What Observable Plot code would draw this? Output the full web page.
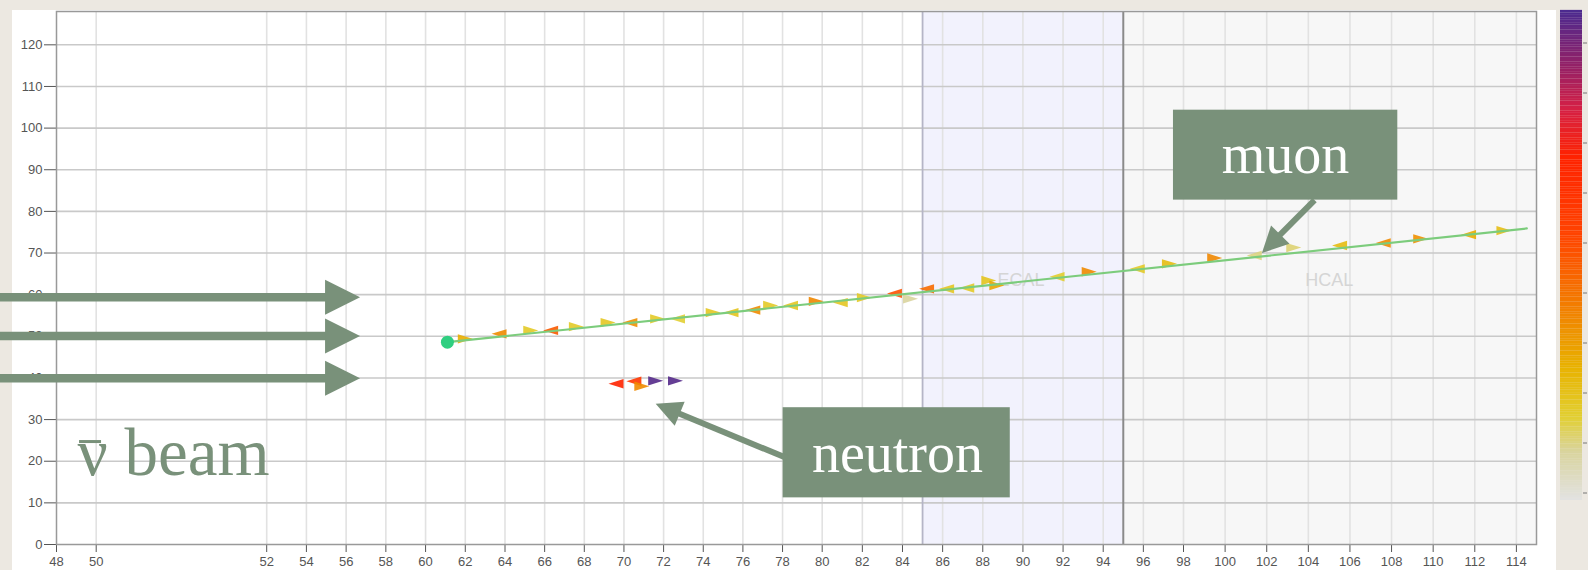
<!DOCTYPE html>
<html><head><meta charset="utf-8">
<script src="https://cdn.jsdelivr.net/npm/d3@7"></script>
<script src="https://cdn.jsdelivr.net/npm/@observablehq/plot@0.6"></script>
<style>
body{margin:0;background:#ece8e1;}
#wrap{position:relative;width:1588px;height:570px;overflow:hidden;background:#ece8e1;}
#panel{position:absolute;left:12px;top:10px;width:1544px;height:560px;background:#fff;}
#main,#cbar{position:absolute;top:0;}
#main{left:0;} #cbar{left:1559px;}
</style></head><body>
<div id="wrap"><div id="panel"></div><div id="main"></div><div id="cbar"></div></div>
<script>
// ---- axis ticks ----
const xTicks = [48,50,52,54,56,58,60,62,64,66,68,70,72,74,76,78,80,82,84,86,88,90,92,94,96,98,100,102,104,106,108,110,112,114];
const yTicks = [0,10,20,30,40,50,60,70,80,90,100,110,120];
// ---- detector regions ----
const regionName = ["ECAL","HCAL"];
const regionX1 = [85, 95];
const regionX2 = [95, 115];
const regionLabelX = [89.9, 105.0];
const regionLabelY = [63.4, 63.4];
// ---- muon track ----
const trackX = [61.1, 114.5];
const trackY = [48.6, 75.9];
const vertexX = [61.1];
const vertexY = [48.6];
const muonHitX = [62.0,63.7,65.3,66.3,67.6,69.2,70.3,71.7,72.7,74.5,75.4,76.5,77.4,78.4,79.7,80.9,82.1,83.6,84.4,85.2,86.2,87.2,88.3,88.7,91.7,93.3,95.7,97.3,99.5,101.4,103.3,105.5,107.6,109.4,111.7,113.4];
const muonHitY = [49.4,50.6,51.4,51.4,52.3,53.3,53.3,54.2,54.2,55.7,55.7,56.3,57.4,57.4,58.4,58.1,59.3,60.3,59.0,61.4,61.4,61.6,63.4,62.2,64.3,65.5,66.2,67.4,68.8,69.4,71.3,71.8,72.4,73.4,74.4,75.4];
const muonHitDir = [1,-1,1,-1,1,1,-1,1,-1,1,-1,-1,1,-1,1,-1,1,-1,1,-1,-1,-1,1,1,-1,1,-1,1,1,-1,1,-1,-1,1,-1,1];
const muonHitE = [2.6,3.4,1.7,4.6,1.7,1.8,3.3,1.7,1.5,1.8,1.9,3.4,1.7,1.8,3.5,1.8,1.7,4.8,0.8,4.2,1.8,1.7,1.9,2.8,1.6,3.4,1.7,2.2,3.5,1.0,1.1,2.2,3.4,3.3,2.6,2.1];
// ---- neutron hits ----
const neutronHitX = [69.6,70.5,70.9,71.6,72.6];
const neutronHitY = [38.6,39.2,38.0,39.3,39.3];
const neutronHitDir = [-1,-1,1,1,1];
const neutronHitE = [6.6,5.8,3.4,9.5,9.5];
// ---- colour bar (energy) ----
const colorDomain = [-0.15,0.83,1.52,2.5,3.48,5.14,6.71,7.69,8.47,9.65];
const colorRange = ["#e2e2e2","#d9d49c","#e2cf30","#e8b200","#f08800","#ff4400","#ff2200","#d42046","#982064","#4a2a90"];
const colorTicks = [0,1,2,3,4,5,6,7,8,9];
// ---- annotations ----
const beamY = [59.4, 50.1, 39.9];
const beamX1 = 45.1, beamTipX = 56.7;
const boxText = ["muon","neutron"];
const boxX1 = [97.5, 78.03];
const boxX2 = [108.3, 89.37];
const boxY1 = [82.7, 11.2];
const boxY2 = [104.3, 32.85];
const boxTextX = [102.9, 83.75];
const boxTextY = [89.3, 17.3];
const arrowX1 = [104.3, 78.24];
const arrowY1 = [82.7, 20.7];
const arrowX2 = [101.77, 71.6];
const arrowY2 = [70.0, 33.8];
const beamLabel = "\u03BD beam";   // ν̄ beam: the bar over ν is drawn as a short rule
const beamLabelX = 49.06, beamLabelY = 16.8;

// ---- build tables ----
const regions = regionName.map((n,i)=>({name:n,x1:regionX1[i],x2:regionX2[i],lx:regionLabelX[i],ly:regionLabelY[i]}));
const track = trackX.map((x,i)=>({x,y:trackY[i]}));
const muonHits = muonHitX.map((x,i)=>({x,y:muonHitY[i],dir:muonHitDir[i],e:muonHitE[i]}));
const neutronHits = neutronHitX.map((x,i)=>({x,y:neutronHitY[i],dir:neutronHitDir[i],e:neutronHitE[i]}));
const hits = muonHits.concat(neutronHits);
const boxes = boxText.map((t,i)=>({t,x1:boxX1[i],x2:boxX2[i],y1:boxY1[i],y2:boxY2[i],tx:boxTextX[i],ty:boxTextY[i]}));

const GREEN = "#79917a";
const SERIF = "Liberation Serif, Times New Roman, serif";
const xOpts = {type:"linear", domain:[48,50,52,64,80,98,115], range:[56,95.7,266.2,504.5,821.7,1183,1536.7]};
const yOpts = {type:"linear", domain:[0,128], range:[544,11]};
const colorOpts = {type:"linear", domain:colorDomain, range:colorRange, interpolate:"rgb"};

// custom symbols
const hitSym = {draw(ctx,size){const r=Math.sqrt(size/Math.PI); ctx.moveTo(r,0); ctx.lineTo(-r,-0.62*r); ctx.lineTo(-r,0.62*r); ctx.closePath();}};
const headSym = {draw(ctx,size){const r=Math.sqrt(size/Math.PI); ctx.moveTo(0,0); ctx.lineTo(-r,-0.5*r); ctx.lineTo(-r,0.5*r); ctx.closePath();}};

// annotation geometry via Plot's scales
const xs = Plot.scale({x:xOpts}), ys = Plot.scale({y:yOpts});
const HEAD = 26;
const arrows = arrowX1.map((x1,i)=>{
  const px1=xs.apply(x1), py1=ys.apply(arrowY1[i]), px2=xs.apply(arrowX2[i]), py2=ys.apply(arrowY2[i]);
  const dx=px2-px1, dy=py2-py1, len=Math.hypot(dx,dy);
  const bx=px2-dx/len*(HEAD-4), by=py2-dy/len*(HEAD-4);
  return {x1, y1:arrowY1[i], x2:arrowX2[i], y2:arrowY2[i], bx:xs.invert(bx), by:ys.invert(by), angle:Math.atan2(dy,dx)*180/Math.PI};
});
const beamBaseX = xs.invert(xs.apply(beamTipX)-33);
const lx = xs.apply(beamLabelX), ly = ys.apply(beamLabelY);
const macron = [{x1:xs.invert(lx+2), x2:xs.invert(lx+24), y:ys.invert(ly-33)}];

const main = Plot.plot({
  width:1588, height:570,
  marginLeft:56, marginRight:52, marginTop:11, marginBottom:26,
  style:{background:"transparent", fontFamily:"Liberation Sans, Arial, sans-serif", fontSize:"13px", color:"#555"},
  x:{...xOpts, ticks:xTicks, tickSize:8, tickPadding:4, label:null},
  y:{...yOpts, ticks:yTicks, tickSize:12, tickPadding:2, label:null},
  color:colorOpts,
  marks:[
    Plot.rect(regions,{x1:"x1",x2:"x2",y1:0,y2:128,fill:(d)=>d.name==="ECAL"?"#f2f2fd":"#f7f7f7"}),
    Plot.ruleX(xTicks.slice(1),{stroke:"#e2e2e2",strokeWidth:1.6}),
    Plot.ruleY(yTicks.slice(1),{stroke:"#c9c9c9",strokeWidth:1.6}),
    Plot.ruleX(regions,{x:"x1",filter:(d)=>d.name==="ECAL",stroke:"#b5b5c6",strokeWidth:1.8}),
    Plot.ruleX(regions,{x:"x2",filter:(d)=>d.name==="ECAL",stroke:"#8a8a8a",strokeWidth:2}),
    Plot.text(regions,{x:"lx",y:"ly",text:"name",fill:"#d5d5d5",fontSize:18,fontFamily:"Liberation Sans, Arial, sans-serif"}),
    Plot.frame({stroke:"#999",strokeWidth:1.5}),
    Plot.dot(hits,{x:"x",y:"y",r:7.5,symbol:hitSym,rotate:(d)=>d.dir>0?0:180,fill:"e",fillOpacity:0.9,stroke:null}),
    Plot.line(track,{x:"x",y:"y",stroke:"#7ccc7c",strokeWidth:2.2}),
    Plot.dot(vertexX.map((x,i)=>({x,y:vertexY[i]})),{x:"x",y:"y",r:6.5,fill:"#2fcf80",stroke:null}),
    // beam arrows
    Plot.ruleY(beamY,{x1:beamX1,x2:beamBaseX,stroke:GREEN,strokeWidth:8.5}),
    Plot.dot(beamY,{x:beamTipX,y:(d)=>d,r:35,symbol:headSym,fill:GREEN,stroke:null}),
    Plot.text([beamLabel],{x:beamLabelX,y:beamLabelY,text:(d)=>d,textAnchor:"start",lineAnchor:"bottom",fontSize:67,fontFamily:SERIF,fill:GREEN}),
    Plot.ruleY(macron,{x1:"x1",x2:"x2",y:"y",stroke:GREEN,strokeWidth:3}),
    // annotation boxes and arrows
    Plot.rect(boxes,{x1:"x1",x2:"x2",y1:"y1",y2:"y2",fill:GREEN}),
    Plot.text(boxes,{x:"tx",y:"ty",text:"t",lineAnchor:"bottom",fontSize:56,fontFamily:SERIF,fill:"white"}),
    Plot.link(arrows,{x1:"x1",y1:"y1",x2:"bx",y2:"by",stroke:GREEN,strokeWidth:6}),
    Plot.dot(arrows,{x:"x2",y:"y2",r:HEAD,symbol:headSym,rotate:"angle",fill:GREEN,stroke:null})
  ]
});
document.getElementById("main").appendChild(main);

const step = 0.049;
const bands = d3.range(colorDomain[0], colorDomain[colorDomain.length-1], step);
const cbar = Plot.plot({
  width:29, height:570,
  marginLeft:1, marginRight:6, marginTop:10, marginBottom:70,
  style:{background:"transparent", color:"#777"},
  x:{domain:[0,1], axis:null},
  y:{domain:[colorDomain[0], colorDomain[colorDomain.length-1]], axis:"right", ticks:colorTicks, tickSize:4, tickFormat:()=>"", label:null},
  color:colorOpts,
  marks:[
    Plot.rect(bands,{x1:0,x2:1,y1:(d)=>d,y2:(d)=>d+step*1.05,fill:(d)=>d+step/2})
  ]
});
document.getElementById("cbar").appendChild(cbar);
</script>
</body></html>
